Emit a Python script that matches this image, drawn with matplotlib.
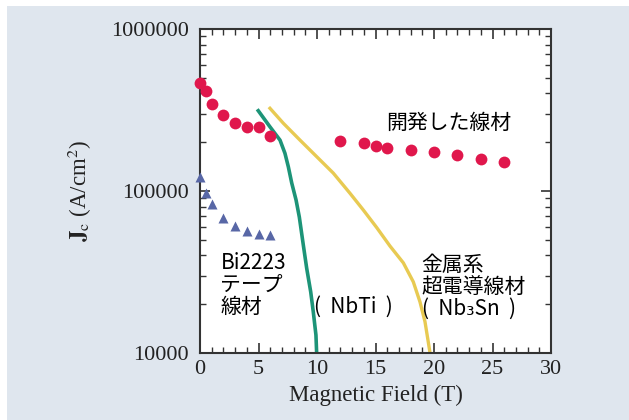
import matplotlib.pyplot as plt
from matplotlib.patches import Rectangle

# developed wire (red circles)
dev_field = [0, 0.5, 1, 2, 3, 4, 5, 6, 12, 14, 15, 16, 18, 20, 22, 24, 26]
dev_jc = [462000, 416000, 346000, 294000, 263000, 248000, 250000, 219000,
          204000, 197000, 190000, 184000, 179000, 174000, 166000, 158000, 152000]

# Bi2223 tape (blue triangles)
bi_field = [0, 0.5, 1, 2, 3, 4, 5, 6]
bi_jc = [122000, 97000, 83000, 68000, 61000, 57000, 54000, 53500]

# NbTi curve
nbti_field = [4.98, 5.98, 6.84, 7.26, 7.55, 7.84, 8.21, 8.49, 8.83, 9.12,
              9.46, 9.68, 9.91, 9.97]
nbti_jc = [313000, 249000, 206000, 171000, 141000, 112000, 88000, 69000, 46400,
           33300, 23900, 18000, 12900, 10000]

# Nb3Sn curve
nb3sn_field = [5.98, 7.12, 8.55, 9.97, 11.39, 12.82, 13.96, 15.10, 16.24, 17.38,
               18.23, 18.80, 19.23, 19.51, 19.66]
nb3sn_jc = [324000, 262000, 206000, 163000, 129000, 96800, 76300, 59500, 45700,
            36000, 27500, 20700, 15600, 11700, 10000]

x_ticks = [0, 5, 10, 15, 20, 25, 30]
y_ticks = [10000, 100000, 1000000]

jp_font = ['Noto Sans CJK JP', 'DejaVu Sans']
serif = 'Liberation Serif'
plt.rcParams['mathtext.fontset'] = 'stix'

fig = plt.figure(figsize=(6.29, 4.2), dpi=100, facecolor='white')
# light blue-grey panel behind the chart
fig.add_artist(Rectangle((7 / 629, 0), 1, 1 - 6 / 420, transform=fig.transFigure,
                         facecolor='#dfe6ee', edgecolor='none', zorder=-5))

ax = fig.add_axes([200 / 629, 1 - 353 / 420, 351 / 629, 324 / 420])
ax.set_facecolor('white')

ax.plot(nbti_field, nbti_jc, color='#1d9478', lw=2.6, zorder=2)
ax.plot(nb3sn_field, nb3sn_jc, color='#e8ca52', lw=2.4, zorder=2)
ax.plot(dev_field, dev_jc, 'o', color='#e0174c', ms=8.5, mec='none', zorder=3, clip_on=False)
ax.plot(bi_field, bi_jc, '^', color='#5867a6', ms=7.5, mec='none', zorder=3, clip_on=False)

ax.set_yscale('log')
ax.set_xlim(0, 30)
ax.set_ylim(10000, 1000000)
ax.set_xticks(x_ticks)
ax.set_xticks(range(31), minor=True)
ax.set_yticks(y_ticks)
ax.set_yticklabels([str(v) for v in y_ticks])
ax.tick_params(which='both', direction='in', top=True, right=True, color='#333333')
ax.tick_params(which='major', length=7, width=1.2, labelsize=16, pad=5)
ax.tick_params(which='minor', length=4, width=1.0)
ax.tick_params(axis='y', which='major', pad=8)
for lab in ax.get_xticklabels() + ax.get_yticklabels():
    lab.set_family(serif)
    lab.set_color('#222222')
for s in ax.spines.values():
    s.set_linewidth(1.5)
    s.set_color('#333333')

ax.set_xlabel('Magnetic Field (T)', family=serif, fontsize=16.5, color='#222222', labelpad=4)
ax.set_ylabel(r'$\mathbf{J}_\mathrm{c}$ (A/cm$^2$)', family=serif, fontsize=16.5,
              color='#222222', labelpad=12)

ax.text(15.9, 263000, '開発した線材', family=jp_font, fontsize=15, va='center', ha='left')
ax.text(1.75, 42000, 'Bi2223\nテープ\n線材', family=jp_font, fontsize=15,
        va='top', ha='left', linespacing=1.0)
ax.text(9.75, 19400, '(  NbTi  )', family=jp_font, fontsize=15, va='center', ha='left')
ax.text(18.95, 41000, '金属系\n超電導線材\n(  Nb₃Sn  )', family=jp_font, fontsize=15,
        va='top', ha='left', linespacing=1.0)

fig.savefig('out.png', dpi=100, facecolor=fig.get_facecolor())
